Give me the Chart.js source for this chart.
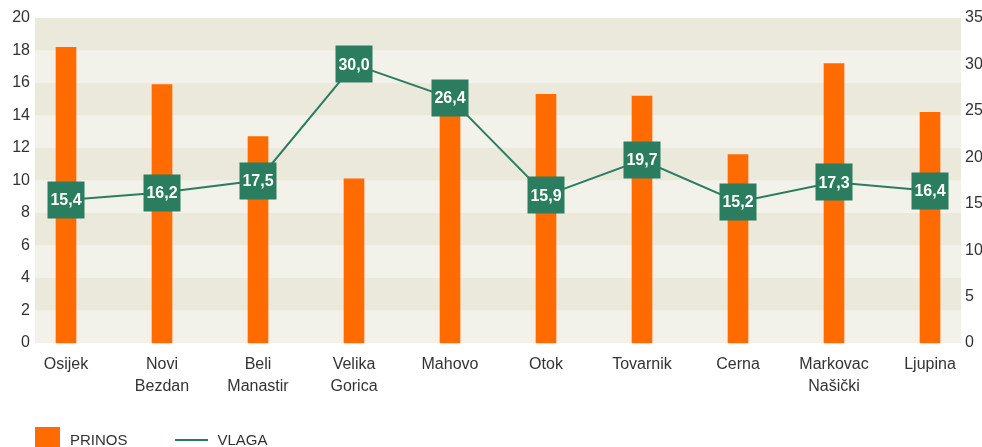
<!DOCTYPE html>
<html lang="hr">
<head>
    <meta charset="UTF-8">
    <title>Prinos i vlaga</title>
    <script src="https://cdn.jsdelivr.net/npm/chart.js"></script>
    <style>
        body {
            margin: 0;
            background-color: #fff;
            font-family: "Liberation Sans", Arial, sans-serif;
        }

        .wrap {
            position: relative;
            width: 982px;
            height: 447px;
            overflow: hidden;
        }

        .legend {
            position: absolute;
            left: 35px;
            top: 427px;
            display: flex;
            align-items: center;
            font-size: 15px;
            color: #333;
        }

        .legend .box {
            width: 25px;
            height: 25px;
            background: #ff6b00;
            margin-right: 10px;
        }

        .legend .line {
            width: 33px;
            height: 2px;
            background: #2a7d5f;
            margin: 0 10px 0 0;
        }

        .legend .item {
            display: flex;
            align-items: center;
            height: 25px;
        }
    </style>
</head>
<body>
    <div class="wrap">
        <canvas id="grafikon" width="982" height="447"></canvas>
        <div class="legend">
            <div class="item"><div class="box"></div><span>PRINOS</span></div>
            <div class="item" style="margin-left:47px"><div class="line"></div><span>VLAGA</span></div>
        </div>
    </div>

    <script>
        var lokacije = [['Osijek'], ['Novi', 'Bezdan'], ['Beli', 'Manastir'], ['Velika', 'Gorica'], ['Mahovo'],
            ['Otok'], ['Tovarnik'], ['Cerna'], ['Markovac', 'Našički'], ['Ljupina']];
        var prinos = [18.2, 15.9, 12.7, 10.1, 15.5, 15.3, 15.2, 11.6, 17.2, 14.2];
        var vlaga = [15.4, 16.2, 17.5, 30.0, 26.4, 15.9, 19.7, 15.2, 17.3, 16.4];

        var narancasta = '#ff6b00';
        var zelena = '#2a7d5f';

        // pozadinske trake, malo sire od chartArea
        var trake = {
            id: 'trake',
            beforeDatasetsDraw: function (chart) {
                var ctx = chart.ctx;
                var y = chart.scales.y;
                var a = chart.chartArea;
                var lijevo = a.left - 31, desno = a.right + 31;
                ctx.save();
                for (var v = 0; v < 20; v += 2) {
                    var y1 = y.getPixelForValue(v + 2), y2 = y.getPixelForValue(v);
                    ctx.fillStyle = (v / 2) % 2 === 0 ? '#f3f2ea' : '#ebe8dc';
                    ctx.fillRect(lijevo, y1, desno - lijevo, y2 - y1);
                }
                ctx.restore();
            }
        };

        // zeleni kvadrati s vrijednostima vlage
        var oznake = {
            id: 'oznake',
            afterDatasetsDraw: function (chart) {
                var ctx = chart.ctx;
                var meta = chart.getDatasetMeta(1);
                ctx.save();
                ctx.font = 'bold 16px "Liberation Sans", Arial, sans-serif';
                ctx.textAlign = 'center';
                ctx.textBaseline = 'middle';
                meta.data.forEach(function (p, i) {
                    ctx.fillStyle = zelena;
                    ctx.fillRect(Math.round(p.x) - 18.5, Math.round(p.y) - 18.5, 37, 37);
                    ctx.fillStyle = '#fff';
                    ctx.fillText(vlaga[i].toFixed(1).replace('.', ','), p.x, p.y + 1);
                });
                ctx.restore();
            }
        };

        // tick padding kod y osi inace dodaje razmak gore
        function sirinaOsi(w) {
            return function (s) {
                s.width = w;
                s.paddingTop = 10;
                s.paddingBottom = 10;
            };
        }

        var ctx = document.getElementById('grafikon').getContext('2d');
        new Chart(ctx, {
            type: 'bar',
            data: {
                labels: lokacije,
                datasets: [
                    {
                        label: 'PRINOS',
                        data: prinos,
                        backgroundColor: narancasta,
                        barThickness: 20,
                        clip: false,
                        yAxisID: 'y',
                        order: 1
                    },
                    {
                        type: 'line',
                        label: 'VLAGA',
                        data: vlaga,
                        borderColor: zelena,
                        borderWidth: 2,
                        backgroundColor: zelena,
                        pointRadius: 0,
                        pointHoverRadius: 0,
                        tension: 0,
                        clip: false,
                        yAxisID: 'y2',
                        order: 0
                    }
                ]
            },
            options: {
                responsive: false,
                animation: false,
                layout: { autoPadding: false, padding: { top: 18 } },
                plugins: {
                    legend: { display: false },
                    tooltip: { enabled: false }
                },
                scales: {
                    x: {
                        offset: false,
                        grid: { display: false, drawTicks: false },
                        border: { display: false },
                        ticks: {
                            padding: 11,
                            color: '#333',
                            font: { family: '"Liberation Sans Narrow", "Liberation Sans", sans-serif', size: 16, lineHeight: 1.35 },
                            maxRotation: 0
                        },
                        afterFit: function (s) { s.height = 104; }
                    },
                    y: {
                        position: 'left',
                        min: 0,
                        max: 20,
                        grid: { display: false, drawTicks: false },
                        border: { display: false },
                        ticks: {
                            stepSize: 2,
                            padding: 36,
                            color: '#333',
                            font: { family: '"Liberation Sans", Arial, sans-serif', size: 16 }
                        },
                        afterFit: sirinaOsi(66)
                    },
                    y2: {
                        position: 'right',
                        min: 0,
                        max: 35,
                        grid: { display: false, drawTicks: false },
                        border: { display: false },
                        ticks: {
                            stepSize: 5,
                            padding: 35,
                            color: '#333',
                            font: { family: '"Liberation Sans", Arial, sans-serif', size: 16 }
                        },
                        afterFit: sirinaOsi(52)
                    }
                }
            },
            plugins: [trake, oznake]
        });
    </script>
</body>
</html>
